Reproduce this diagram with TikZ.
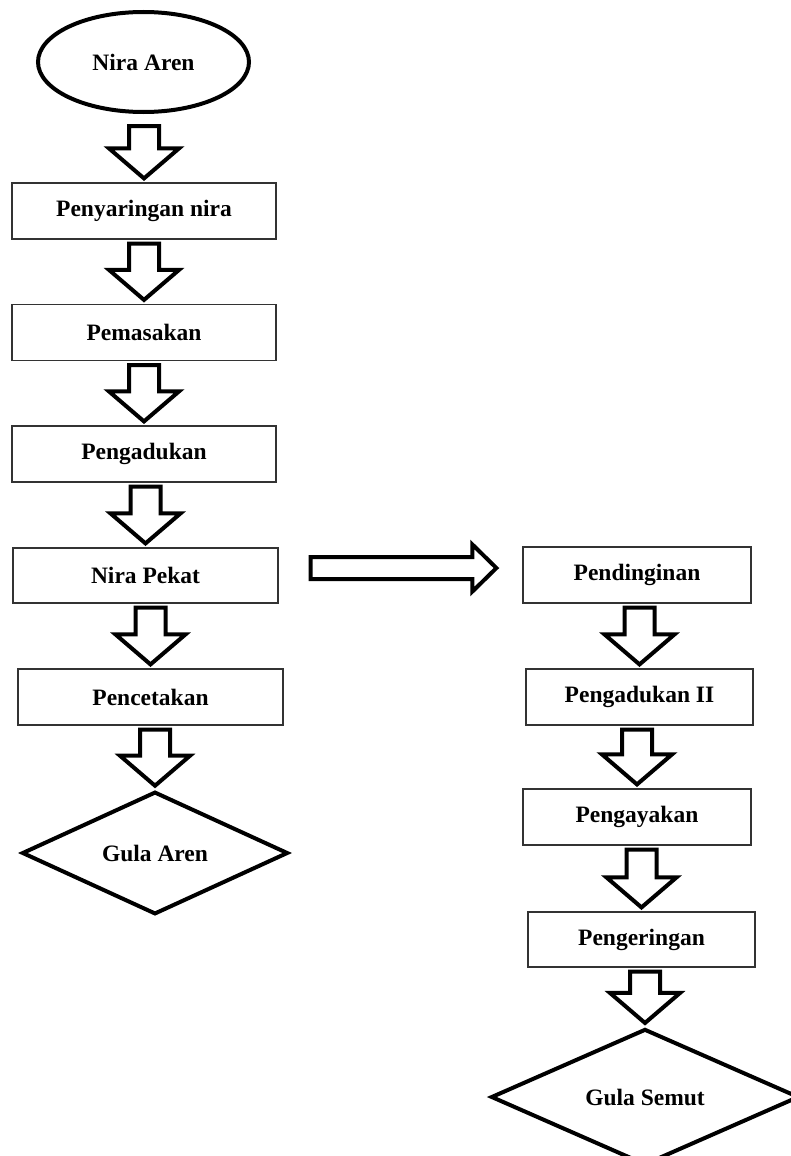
\documentclass[tikz,border=0pt]{standalone}
\usepackage{fontspec}
\setmainfont{Liberation Serif}
\usetikzlibrary{shapes.geometric,calc}

\newcommand{\blockdown}[3][4]{%
  \draw[blockarrow] let \p1=(#3.north |- #2.south), \p2=(#3.north) in
    (\x1-15pt,\y1-#1pt) -- (\x1+15pt,\y1-#1pt) -- (\x1+15pt,\y2+34pt)
    -- (\x1+35pt,\y2+34pt) -- (\x1,\y2+4pt) -- (\x1-35pt,\y2+34pt)
    -- (\x1-15pt,\y2+34pt) -- cycle;}

\begin{document}
\begin{tikzpicture}[x=1pt, y=-1pt,
  label/.style={font=\fontsize{23.5}{28}\selectfont\bfseries, inner sep=0},
  box/.style={label, draw=black!80, line width=1.2pt, minimum width=264, minimum height=56},
  endbox/.style={label, draw, line width=4pt, diamond},
  blockarrow/.style={draw, line width=4pt, fill=white}]
\useasboundingbox (0,0) rectangle (791,1156);

\node[label, draw, line width=4pt, ellipse, minimum width=211, minimum height=100] (na) at (143.5,62) {Nira Aren};
\node[box] (pn) at (144,211) {Penyaringan nira};
\node[box] (pm) at (144,332.5) {Pemasakan};
\node[box] (pg) at (144,454) {Pengadukan};
\node[box, minimum width=265, minimum height=55] (np) at (145.5,575.5) {Nira Pekat};
\node[box, minimum width=265] (pc) at (150.5,697) {Pencetakan};
\node[endbox, minimum width=266, minimum height=108] (ga) at (155,853) {Gula Aren};

\node[box, minimum width=228] (pd) at (637,575) {Pendinginan};
\node[box, minimum width=227] (p2) at (639.5,697) {Pengadukan II};
\node[box, minimum width=228] (py) at (637,817) {Pengayakan};
\node[box, minimum width=227, minimum height=55] (pk) at (641.5,939.5) {Pengeringan};
\node[endbox, minimum width=308, minimum height=120] (gs) at (645,1097) {Gula Semut};

\blockdown[12]{na}{pn}
\blockdown{pn}{pm}
\blockdown{pm}{pg}
\blockdown{pg}{np}
\blockdown{np}{pc}
\blockdown{pc}{ga}

\draw[blockarrow] let \p1=(np.east), \p2=(pd.west) in
  (\x1+32pt,\y1-3.5pt) -- (\x2-50pt,\y1-3.5pt) -- (\x2-50pt,\y1-16pt)
  -- (\x2-26pt,\y1+7.5pt) -- (\x2-50pt,\y1+31pt) -- (\x2-50pt,\y1+18.5pt)
  -- (\x1+32pt,\y1+18.5pt) -- cycle;

\blockdown{pd}{p2}
\blockdown{p2}{py}
\blockdown{py}{pk}
\blockdown{pk}{gs}
\end{tikzpicture}
\end{document}
